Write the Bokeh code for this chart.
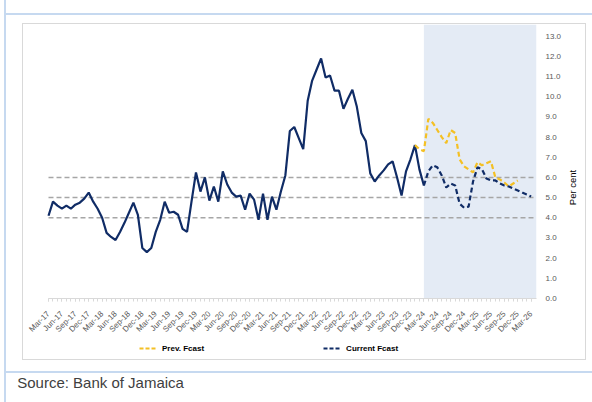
import numpy as np
import pandas as pd
from bokeh.plotting import figure
from bokeh.layouts import column, row
from bokeh.models import (Range1d, FixedTicker, BoxAnnotation, Legend,
                          LegendItem, PrintfTickFormatter, Label)
from bokeh.embed import file_html
from bokeh.resources import INLINE

# ---------------- data ----------------
months = pd.date_range("2017-03-01", "2026-03-01", freq="MS").strftime("%b-%y").tolist()

# Actual inflation, Mar-17 .. Mar-24
actual = [4.1, 4.8, 4.6, 4.45, 4.6, 4.45, 4.65, 4.75, 4.95, 5.25,
          4.8, 4.45, 4.0, 3.25, 3.05, 2.9, 3.3, 3.75, 4.25, 4.75,
          4.15, 2.5, 2.3, 2.5, 3.3, 3.9, 4.8, 4.25, 4.3, 4.15,
          3.45, 3.3, 4.8, 6.25, 5.3, 6.0, 4.85, 5.55, 4.8, 6.3,
          5.65, 5.25, 5.05, 5.1, 4.4, 5.2, 4.9, 3.9, 5.2, 3.9,
          5.05, 4.4, 5.3, 6.1, 8.3, 8.5, 7.95, 7.4, 9.8, 10.8,
          11.35, 11.9, 10.95, 11.05, 10.3, 10.3, 9.4, 9.9, 10.35, 9.5,
          8.2, 7.8, 6.2, 5.8, 6.1, 6.35, 6.65, 6.8, 6.0, 5.1,
          6.3, 6.9, 7.6, 6.4, 5.6]
actual_start = "Mar-17"

# Previous forecast, Jan-24 .. Dec-25
prev_fcast = [7.6, 7.4, 7.3, 8.9, 8.7, 8.35, 8.0, 7.7, 8.35, 8.2,
              6.9, 6.55, 6.4, 6.25, 6.75, 6.6, 6.7, 6.8, 6.0, 5.9,
              5.75, 5.55, 5.7, 5.85]
prev_start = "Jan-24"

# Current forecast, Mar-24 .. Mar-26
curr_fcast = [5.6, 6.3, 6.6, 6.5, 6.1, 5.5, 5.7, 5.6, 4.7, 4.5,
              4.55, 5.8, 6.5, 6.4, 5.95, 5.85, 5.85, 5.7, 5.6, 5.55,
              5.45, 5.35, 5.25, 5.15, 5.05]
curr_start = "Mar-24"

target_band = [4.0, 5.0, 6.0]
forecast_period_start = "Mar-24"
y_ticks = list(range(0, 14))
tick_step = 3

# ---------------- helpers ----------------
def xs(start, n):
    i0 = months.index(start)
    return list(range(i0, i0 + n))

NAVY = "#102C66"
GOLD = "#F4C024"
SHADE = "#E4EBF5"
GRID = "#A6A6A6"
BLUE = "#C6D9F0"
BOX = "#D9D9D9"
FONT = "Liberation Sans"

def css_lines(deco):
    img = ", ".join(f"linear-gradient({c}, {c})" for *_, c in deco)
    pos = ", ".join(f"{x}px {y}px" for x, y, w, h, c in deco)
    size = ", ".join(f"{w}px {h}px" for x, y, w, h, c in deco)
    return {"background-image": img, "background-position": pos,
            "background-size": size, "background-repeat": "no-repeat",
            "background-color": "white"}

# geometry (page pixels)
W = 592
W_MAIN = 564                         # main figure width; a narrow strip holds the y title
H_MAIN, H_FOOT = 340, 62
PA_LEFT, PA_RIGHT, PA_TOP, PA_BOTTOM = 48, 536, 24, 298
X_END = 109.2                        # data x at right edge of plot area
px_per_x = (PA_RIGHT - PA_LEFT) / X_END
Y_TOP = 13.58

p = figure(width=W_MAIN, height=H_MAIN, output_backend="svg", toolbar_location=None,
           x_range=Range1d(-PA_LEFT / px_per_x, X_END),
           y_range=Range1d(0, Y_TOP), y_axis_location="right",
           min_border_left=0, min_border_right=W_MAIN - PA_RIGHT,
           min_border_top=PA_TOP, min_border_bottom=H_MAIN - PA_BOTTOM,
           outline_line_color=None, background_fill_color=None,
           border_fill_color=None)
p.styles = css_lines([(4, 0, 2, H_MAIN, BLUE), (4, 13, W_MAIN - 4, 2, BLUE),
                      (22, 23, 1, H_MAIN - 23, BOX), (22, 23, W_MAIN - 22, 1, BOX)])
p.xgrid.grid_line_color = None
p.ygrid.grid_line_color = None

# forecast shading
p.add_layout(BoxAnnotation(left=months.index(forecast_period_start), right=X_END, bottom=0,
                           fill_color=SHADE, fill_alpha=1.0, line_color=None,
                           level="underlay"))

# target band lines
n_t = len(target_band)
p.segment(x0=[0] * n_t, x1=[X_END] * n_t, y0=target_band, y1=target_band,
          line_color=GRID, line_dash="5 3", line_width=1.5)

# series
r_act = p.line(xs(actual_start, len(actual)), actual, line_color=NAVY, line_width=2.2)
r_prev = p.line(xs(prev_start, len(prev_fcast)), prev_fcast, line_color=GOLD,
                line_width=2.2, line_dash="5 3")
r_curr = p.line(xs(curr_start, len(curr_fcast)), curr_fcast, line_color=NAVY,
                line_width=2.2, line_dash="5 3")

# x axis
tick_idx = list(range(0, len(months), tick_step))
xax = p.xaxis[0]
xax.bounds = (0, X_END)
xax.ticker = FixedTicker(ticks=tick_idx, minor_ticks=list(range(len(months))))
xax.major_label_overrides = {i: months[i] for i in tick_idx}
xax.major_label_orientation = np.pi / 4
xax.major_label_text_font = FONT
xax.major_label_text_font_size = "8px"
xax.major_label_text_color = "#595959"
xax.axis_line_color = BOX
xax.major_tick_line_color = BOX
xax.minor_tick_line_color = BOX
xax.major_tick_in = 0
xax.major_tick_out = 3
xax.minor_tick_in = 0
xax.minor_tick_out = 3
xax.major_label_standoff = 11

# y axis (right)
yax = p.yaxis[0]
yax.ticker = FixedTicker(ticks=y_ticks)
yax.formatter = PrintfTickFormatter(format="%.1f")
yax.major_label_text_font = FONT
yax.major_label_text_font_size = "8px"
yax.major_label_text_color = "#595959"
yax.axis_line_color = None
yax.major_tick_line_color = None
yax.minor_tick_line_color = None
yax.major_tick_in = 0
yax.major_tick_out = 0
yax.major_label_standoff = 9

# ---------------- right strip: y-axis title ----------------
r = figure(width=W - W_MAIN, height=H_MAIN, output_backend="svg", toolbar_location=None,
           x_range=Range1d(W_MAIN, W), y_range=Range1d(PA_BOTTOM, PA_TOP),
           x_axis_location=None, y_axis_location=None,
           min_border_left=0, min_border_right=0,
           min_border_top=PA_TOP, min_border_bottom=H_MAIN - PA_BOTTOM,
           outline_line_color=None, background_fill_color=None, border_fill_color=None)
r.styles = css_lines([(0, 13, W - W_MAIN, 2, BLUE), (585 - W_MAIN, 23, 1, H_MAIN - 23, BOX),
                      (0, 23, 586 - W_MAIN, 1, BOX)])
r.grid.visible = False
r.add_layout(Label(x=571.5, y=187, text="Per cent", angle=np.pi / 2, text_align="center",
                   text_baseline="middle", text_font=FONT, text_font_size="9.5px",
                   text_color="#000000"))

# ---------------- footer: legend + source ----------------
f = figure(width=W, height=H_FOOT, output_backend="svg", toolbar_location=None,
           x_range=Range1d(0, PA_RIGHT), y_range=Range1d(H_FOOT, 0),
           x_axis_location=None, y_axis_location=None,
           min_border_left=0, min_border_right=W_MAIN - PA_RIGHT,
           min_border_top=0, min_border_bottom=0,
           outline_line_color=None, background_fill_color=None, border_fill_color=None)
f.styles = css_lines([(4, 0, 2, H_FOOT, BLUE), (22, 0, 1, 20, BOX), (585, 0, 1, 20, BOX),
                      (22, 19, 564, 1, BOX), (4, 31, 588, 2, BLUE)])
f.grid.visible = False
# legend proxies (no visible data)
k_prev = f.line(x=[np.nan], y=[np.nan], line_color=GOLD, line_width=2, line_dash="4 2")
k_curr = f.line(x=[np.nan], y=[np.nan], line_color=NAVY, line_width=2, line_dash="4 2")
legend = Legend(items=[LegendItem(label="Prev. Fcast", renderers=[k_prev]),
                       LegendItem(label="Current Fcast", renderers=[k_curr])],
                orientation="horizontal", location=(139, H_FOOT - 16),
                padding=0, margin=0, spacing=119, glyph_width=18, glyph_height=16,
                label_height=16, label_standoff=5, label_text_font=FONT,
                label_text_font_size="8px", label_text_font_style="bold",
                label_text_color="#000000", border_line_alpha=0,
                background_fill_alpha=0, inactive_fill_alpha=0)
f.add_layout(legend, "center")
f.add_layout(Label(x=16.7, y=H_FOOT - 42, x_units="screen", y_units="screen",
                   text="Source: Bank of Jamaica", text_align="left",
                   text_baseline="middle", text_font=FONT, text_font_size="15px",
                   text_color="#404040"))

layout = column(row(p, r, spacing=0), f, spacing=0)
open("out.html", "w").write(file_html(layout, INLINE))
